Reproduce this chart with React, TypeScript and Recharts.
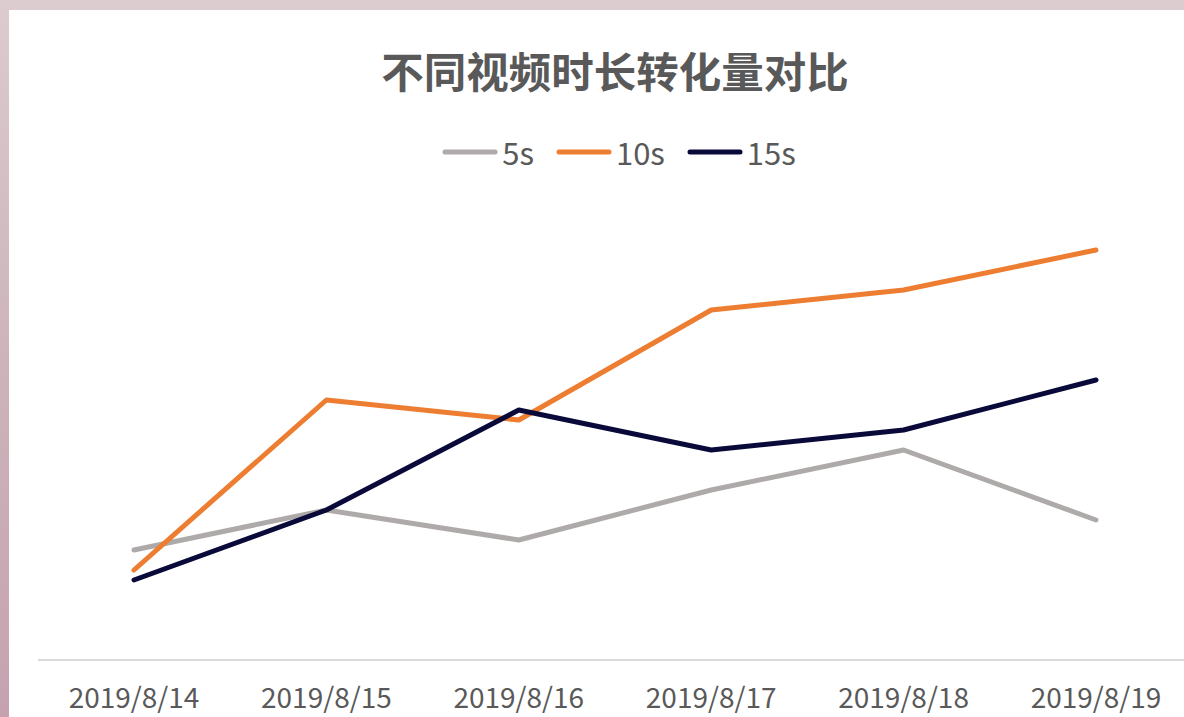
import React from 'react';
import { LineChart, Line, XAxis, YAxis } from 'recharts';

const dates = ['2019/8/14', '2019/8/15', '2019/8/16', '2019/8/17', '2019/8/18', '2019/8/19'];
const s5 = [11, 15, 12, 17, 21, 14];
const s10 = [9, 26, 24, 35, 37, 41];
const s15 = [8, 15, 25, 21, 23, 28];

const series = [
  { key: 's5', name: '5s', color: '#aeaaaa' },
  { key: 's10', name: '10s', color: '#ed7d31' },
  { key: 's15', name: '15s', color: '#0a0a3a' },
];

const data = dates.map((d, i) => ({ date: d, s5: s5[i], s10: s10[i], s15: s15[i] }));

const font = '"Noto Sans CJK SC", "Microsoft YaHei", sans-serif';

export default function App() {
  return (
    <div
      style={{
        position: 'absolute',
        left: 0,
        top: 0,
        width: 1184,
        height: 717,
        overflow: 'hidden',
        background: 'linear-gradient(180deg, #dccbcf 0%, #cdb4ba 50%, #c6a2b0 100%)',
        fontFamily: font,
      }}
    >
      {/* white card */}
      <div style={{ position: 'absolute', left: 9, top: 10, width: 1300, height: 800, background: '#fff' }} />

      <div
        style={{
          position: 'absolute',
          left: 0,
          width: 1230,
          top: 42,
          textAlign: 'center',
          fontSize: 42.5,
          fontWeight: 700,
          color: '#595959',
          lineHeight: '56px',
        }}
      >
        不同视频时长转化量对比
      </div>

      <div
        style={{
          position: 'absolute',
          left: 0,
          width: 1238,
          top: 130,
          display: 'flex',
          justifyContent: 'center',
          gap: 22,
          fontSize: 31,
          color: '#595959',
          lineHeight: '44px',
        }}
      >
        {series.map(s => (
          <div key={s.key} style={{ display: 'flex', alignItems: 'center' }}>
            <svg width={56} height={10} style={{ marginRight: 4 }}>
              <line x1={3} y1={5} x2={53} y2={5} stroke={s.color} strokeWidth={5} strokeLinecap="round" />
            </svg>
            <span>{s.name}</span>
          </div>
        ))}
      </div>

      <div style={{ position: 'absolute', left: 0, top: 0 }}>
        <LineChart width={1200} height={717} data={data} margin={{ top: 200, right: 8, bottom: 0, left: 38 }}>
          <XAxis
            dataKey="date"
            height={57}
            padding={{ left: 96, right: 96 }}
            tickLine={false}
            axisLine={{ stroke: '#d9d9d9', strokeWidth: 2 }}
            tick={{ fill: '#595959', fontSize: 28, fontFamily: font }}
            tickMargin={22}
            interval={0}
          />
          <YAxis hide domain={[0, 46]} />
          {series.map(s => (
            <Line
              key={s.key}
              dataKey={s.key}
              name={s.name}
              stroke={s.color}
              strokeWidth={5}
              strokeLinecap="round"
              strokeLinejoin="round"
              dot={false}
              activeDot={false}
              type="linear"
              isAnimationActive={false}
            />
          ))}
        </LineChart>
      </div>
    </div>
  );
}
